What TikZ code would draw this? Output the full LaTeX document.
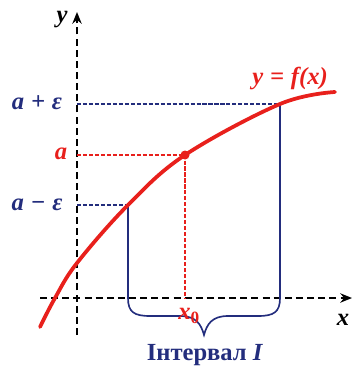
\documentclass[tikz,border=0pt]{standalone}
\usepackage{fontspec}
\setmainfont{Liberation Serif}
\usetikzlibrary{arrows.meta}
\definecolor{darkblue}{RGB}{35,45,125}
\definecolor{curvered}{RGB}{232,32,28}
\tikzset{
  axis/.style={black, line width=1.8pt, dash pattern=on 6pt off 3.5pt, -{Stealth[length=10pt,width=8pt]}},
  level/.style={line width=2pt, dash pattern=on 3.5pt off 1.6pt},
  lab/.style={font=\fontsize{21}{24}\selectfont\bfseries\itshape, inner sep=1pt},
}
\begin{document}
\begin{tikzpicture}[x=0.3mm, y=-0.3mm]
		\useasboundingbox (0,0) rectangle (357,370);
		
		% Axes
		\draw[axis] (77,335) -- (77,12);
		\draw[axis] (40,298) -- (352,298);
		\node[lab] (ylab) at (62,20) {y};
		\node[lab] (xlab) at (343,320) {x};
		
		% Levels a+e, a, a-e
		\draw[level, darkblue] (77,104) -- (280,104);
		\draw[darkblue, line width=1.4pt] (280,104) -- (280,298);
		\draw[level, curvered] (77,155) -- (185,155) -- (185,298);
		\draw[level, darkblue] (77,205) -- (128,205);
		\draw[darkblue, line width=1.4pt] (128,205) -- (128,298);
		\node[lab, darkblue] (ape) at (37,103) {a\;+\;ε};
		\node[lab, curvered] (alab) at (61,154) {a};
		\node[lab, darkblue] (ame) at (37,205) {a\;−\;ε};
		
		% Curve
		\draw[curvered, line width=3.2pt, line cap=round] plot[smooth, tension=0.6] coordinates
		  {(40,327) (55,298) (77,263) (128,205) (185,155) (280,104) (335,92)};
		\fill[curvered] (185,155) circle (4.5);
		\node[lab, curvered] (flab) at (290,78) {y\;=\;f(x)};
		
		% Interval I
		\draw[darkblue, line width=1.4pt] (128,298) .. controls (128,312) and (134,316) .. (150,316)
		  -- (180,316) .. controls (196,316) and (201,324) .. (204,335)
		  .. controls (207,324) and (212,316) .. (228,316) -- (258,316)
		  .. controls (274,316) and (280,312) .. (280,298);
		\node[lab, curvered] (x0) at (189,316) {x\textsubscript{\upshape 0}};
		\node[lab, darkblue, font=\fontsize{21}{24}\selectfont\bfseries] (int) at (205,355) {Інтервал \textit{I}};
		
	\end{tikzpicture}
\end{document}
